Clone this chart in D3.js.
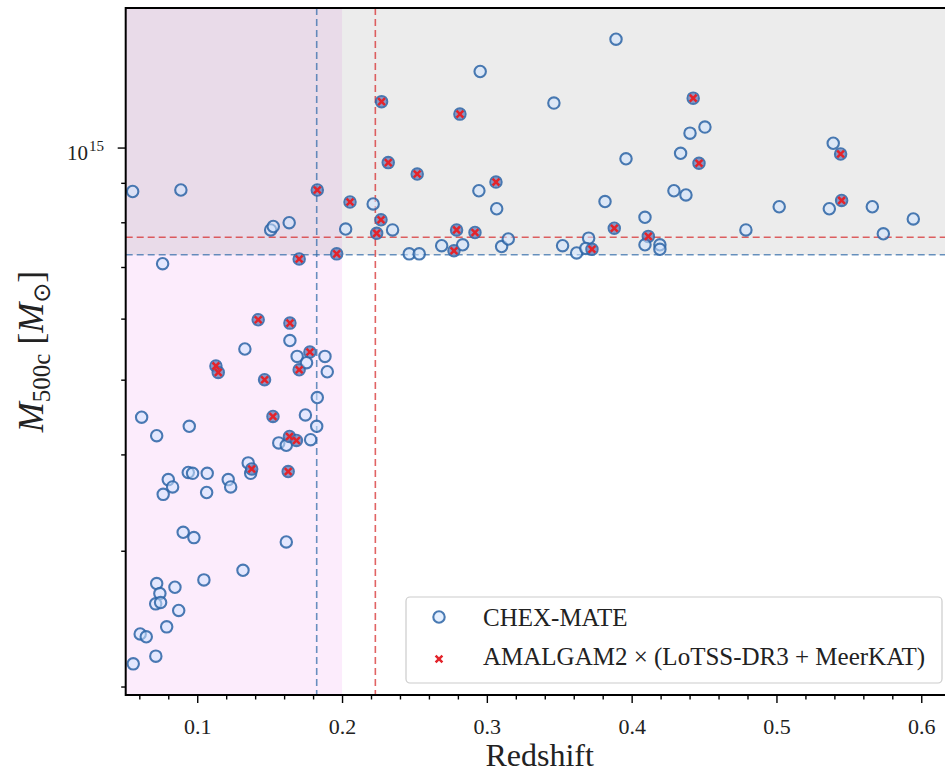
<!DOCTYPE html>
<html lang="en">
<head>
<meta charset="UTF-8">
<script src="https://d3js.org/d3.v7.min.js"></script>
<style>
  body { margin: 0; background: #fff; }
  svg { display: block; font-family: "Liberation Serif", "DejaVu Serif", serif; }
</style>
</head>
<body>
<div id="chart"></div>
<script>
// CHEX-MATE clusters: redshift and M500c (units of 1e14 Msun)
const chexRedshift = [
  0.0554, 0.0887, 0.1507, 0.1525, 0.1635, 0.0761, 0.1704, 0.1829, 0.2025, 0.2055,
  0.1963, 0.2215, 0.2273, 0.2319, 0.2269, 0.2239, 0.2349, 0.2519, 0.2464, 0.2533,
  0.2688, 0.2773, 0.2791, 0.2833, 0.2814, 0.2954, 0.2945, 0.3063, 0.3068, 0.2918,
  0.3102, 0.3148, 0.3463, 0.3523, 0.3620, 0.3703, 0.3684, 0.3726, 0.3892, 0.3961,
  0.3816, 0.3880, 0.4092, 0.4115, 0.4092, 0.4195, 0.4195, 0.4425, 0.4403, 0.4506,
  0.4338, 0.4465, 0.4292, 0.4375, 0.4789, 0.5019, 0.5392, 0.5443, 0.5365, 0.5450,
  0.5662, 0.5738, 0.5945,
  0.1421, 0.1640, 0.1640, 0.1329, 0.1129, 0.1145, 0.1465, 0.1778, 0.1704, 0.1690,
  0.1755, 0.1882, 0.1898, 0.1829, 0.0616, 0.0720, 0.0945, 0.1523, 0.1747, 0.1825,
  0.1563, 0.1615, 0.1637, 0.1685, 0.1783, 0.1352, 0.1369, 0.1376, 0.1628, 0.0800,
  0.0830, 0.0765, 0.0938, 0.0968, 0.1069, 0.1065, 0.1214, 0.1231, 0.0903, 0.0977,
  0.1615, 0.1316, 0.1046, 0.0720, 0.0846, 0.0742, 0.0713, 0.0747, 0.0872, 0.0789,
  0.0606, 0.0648, 0.0714, 0.0558
];
const chexMass = [
  8.77, 8.81, 7.82, 7.90, 7.99, 7.07, 7.17, 8.81, 7.84, 8.50,
  7.28, 8.45, 11.47, 9.56, 8.06, 7.74, 7.82, 9.24, 7.28, 7.28,
  7.46, 7.35, 7.82, 7.48, 11.05, 12.55, 8.79, 9.02, 8.33, 7.76,
  7.44, 7.61, 11.42, 7.46, 7.30, 7.63, 7.40, 7.38, 13.82, 9.67,
  8.51, 7.86, 8.12, 7.67, 7.48, 7.48, 7.38, 11.59, 10.44, 10.63,
  9.83, 9.54, 8.79, 8.68, 7.82, 8.38, 10.13, 9.81, 8.33, 8.54,
  8.38, 7.73, 8.08,
  5.98, 5.92, 5.62, 5.48, 5.21, 5.11, 5.00, 5.43, 5.15, 5.36,
  5.26, 5.36, 5.12, 4.74, 4.47, 4.23, 4.35, 4.48, 4.50, 4.35,
  4.14, 4.11, 4.22, 4.17, 4.18, 3.90, 3.78, 3.83, 3.80, 3.71,
  3.63, 3.55, 3.79, 3.78, 3.78, 3.57, 3.71, 3.63, 3.17, 3.12,
  3.08, 2.83, 2.75, 2.72, 2.69, 2.64, 2.56, 2.57, 2.51, 2.39,
  2.34, 2.32, 2.19, 2.14
];
// AMALGAM2 x (LoTSS-DR3 + MeerKAT) subset
const amalgamRedshift = [
  0.1704, 0.1829, 0.2055, 0.1963, 0.2273, 0.2319, 0.2269, 0.2239, 0.2519, 0.2773,
  0.2791, 0.2814, 0.3063, 0.2918, 0.3726, 0.3880, 0.4115, 0.4425, 0.4465, 0.5443,
  0.5450, 0.1421, 0.1640, 0.1129, 0.1145, 0.1465, 0.1778, 0.1704, 0.1523, 0.1637,
  0.1685, 0.1376, 0.1628
];
const amalgamMass = [
  7.17, 8.81, 8.50, 7.28, 11.47, 9.56, 8.06, 7.74, 9.24, 7.35,
  7.82, 11.05, 9.02, 7.76, 7.38, 7.86, 7.67, 11.59, 9.54, 9.81,
  8.54, 5.98, 5.92, 5.21, 5.11, 5.00, 5.43, 5.15, 4.48, 4.22,
  4.17, 3.83, 3.80
];
// selection cuts
const massCutRed = 7.65, massCutBlue = 7.26;   // 1e14 Msun
const zCutRed = 0.223, zCutBlue = 0.1825, zShade = 0.2;
const xMajor = [0.1, 0.2, 0.3, 0.4, 0.5, 0.6];
const xMinor = [0.06, 0.08, 0.12, 0.14, 0.16, 0.18, 0.22, 0.24, 0.26, 0.28, 0.32, 0.34, 0.36, 0.38,
                0.42, 0.44, 0.46, 0.48, 0.52, 0.54, 0.56, 0.58, 0.62];
const yMinor = [2, 3, 4, 5, 6, 7, 8, 9];

const w = 945, h = 773;
const pl = 125.7, pr = 953.7, pt = 8, pb = 695;
const E14 = 1e14;

const x = d3.scaleLinear().domain([0.0506, 0.6224]).range([pl, pr]);
const y = d3.scaleLog().domain([1.95e14, 1.517e15]).range([pb, pt]);

const svg = d3.select("#chart").append("svg").attr("width", w).attr("height", h);

svg.append("clipPath").attr("id", "plot")
   .append("rect").attr("x", pl).attr("y", pt).attr("width", pr - pl).attr("height", pb - pt);
const g = svg.append("g").attr("clip-path", "url(#plot)");

// shaded regions
g.append("rect")
   .attr("x", pl).attr("y", pt)
   .attr("width", x(zShade) - pl).attr("height", pb - pt)
   .attr("fill", "violet").attr("fill-opacity", 0.15);
g.append("rect")
   .attr("x", pl).attr("y", pt)
   .attr("width", pr - pl).attr("height", y(massCutBlue * E14) - pt)
   .attr("fill", "gray").attr("fill-opacity", 0.15);

// dashed cuts
const cuts = [
  {type: "h", v: massCutRed * E14, c: "#d62728"},
  {type: "h", v: massCutBlue * E14, c: "#2f6aa8"},
  {type: "v", v: zCutRed, c: "#d62728"},
  {type: "v", v: zCutBlue, c: "#2f6aa8"}
];
cuts.forEach(d => {
  const ln = g.append("line")
    .attr("stroke", d.c).attr("stroke-opacity", 0.72)
    .attr("stroke-width", 1.6).attr("stroke-dasharray", "7,4");
  if (d.type === "h") ln.attr("x1", pl).attr("x2", pr).attr("y1", y(d.v)).attr("y2", y(d.v));
  else ln.attr("y1", pt).attr("y2", pb).attr("x1", x(d.v)).attr("x2", x(d.v));
});

// CHEX-MATE circles
g.selectAll("circle.chex")
  .data(chexRedshift.map((z, i) => [z, chexMass[i]]))
  .enter().append("circle")
  .attr("class", "chex")
  .attr("cx", d => x(d[0]))
  .attr("cy", d => y(d[1] * E14))
  .attr("r", 5.7)
  .attr("fill", "#cfe4ff").attr("fill-opacity", 0.55)
  .attr("stroke", "#2c64a6").attr("stroke-opacity", 0.85)
  .attr("stroke-width", 2.1);

// AMALGAM2 crosses
const amal = amalgamRedshift.map((z, i) => [z, amalgamMass[i]]);
g.selectAll("circle.amal")
  .data(amal)
  .enter().append("circle")
  .attr("class", "amal")
  .attr("cx", d => x(d[0]))
  .attr("cy", d => y(d[1] * E14))
  .attr("r", 4.8)
  .attr("fill", "#5d6aa6").attr("fill-opacity", 0.65);
g.selectAll("path.amal")
  .data(amal)
  .enter().append("path")
  .attr("class", "amal")
  .attr("transform", d => "translate(" + x(d[0]) + "," + y(d[1] * E14) + ")")
  .attr("d", "M-3.4,-3.4L3.4,3.4M-3.4,3.4L3.4,-3.4")
  .attr("stroke", "#e3242b").attr("stroke-width", 2.5);

// axes
const xAxis = svg.append("g")
  .attr("transform", "translate(0," + pb + ")")
  .call(d3.axisBottom(x).tickValues(xMajor).tickSize(8).tickPadding(15).tickFormat(d3.format(".1f")));
svg.append("g")
  .attr("transform", "translate(0," + pb + ")")
  .call(d3.axisBottom(x).tickValues(xMinor).tickSize(4.5).tickFormat(""));
svg.append("g")
  .attr("transform", "translate(" + pl + ",0)")
  .call(d3.axisLeft(y).tickValues([1e15]).tickSize(8).tickFormat(""));
svg.append("g")
  .attr("transform", "translate(" + pl + ",0)")
  .call(d3.axisLeft(y).tickValues(yMinor.map(v => v * E14)).tickSize(4.5).tickFormat(""));
svg.selectAll(".domain").remove();
svg.selectAll(".tick line").attr("stroke", "#000").attr("stroke-width", 1.4);
xAxis.selectAll(".tick text")
  .attr("font-family", "Liberation Serif").attr("font-size", 22).attr("fill", "#222");

// 10^15 label
const yt = svg.append("text")
  .attr("x", 104).attr("y", y(1e15) + 12)
  .attr("text-anchor", "end").attr("font-size", 21).attr("fill", "#222");
yt.append("tspan").text("10");
yt.append("tspan").attr("font-size", 15).attr("dx", 1).attr("dy", -9).text("15");

// spines
svg.append("rect")
  .attr("x", pl).attr("y", pt).attr("width", pr - pl).attr("height", pb - pt)
  .attr("fill", "none").attr("stroke", "#000").attr("stroke-width", 2);

// axis labels
svg.append("text")
  .attr("x", (pl + pr) / 2).attr("y", 766)
  .attr("text-anchor", "middle").attr("font-size", 32).attr("fill", "#222")
  .text("Redshift");

const yl = svg.append("text")
  .attr("transform", "translate(43," + ((pt + pb) / 2) + ") rotate(-90)")
  .attr("text-anchor", "middle").attr("font-size", 36).attr("fill", "#222");
yl.append("tspan").attr("font-style", "italic").text("M");
yl.append("tspan").attr("font-size", 25).attr("dy", 7).text("500c");
yl.append("tspan").attr("dy", -7).text(" [");
yl.append("tspan").attr("font-style", "italic").text("M");
yl.append("tspan").attr("font-size", 24).attr("dy", 7).attr("font-family", "DejaVu Sans").text("\u2299");
yl.append("tspan").attr("dy", -7).text("]");

// legend
const lg = svg.append("g");
lg.append("rect")
  .attr("x", 406).attr("y", 597).attr("width", 536).attr("height", 86).attr("rx", 4)
  .attr("fill", "#fff").attr("fill-opacity", 0.8)
  .attr("stroke", "#cccccc").attr("stroke-width", 1.2);
lg.append("circle")
  .attr("cx", 439).attr("cy", 617).attr("r", 5.7)
  .attr("fill", "#cfe4ff").attr("fill-opacity", 0.55)
  .attr("stroke", "#2c64a6").attr("stroke-opacity", 0.85).attr("stroke-width", 2.1);
lg.append("path")
  .attr("transform", "translate(439,659)")
  .attr("d", "M-3.4,-3.4L3.4,3.4M-3.4,3.4L3.4,-3.4")
  .attr("stroke", "#e3242b").attr("stroke-width", 2.5);
lg.append("text").attr("x", 483).attr("y", 626).attr("font-size", 25).attr("fill", "#222")
  .text("CHEX-MATE");
lg.append("text").attr("x", 483).attr("y", 665).attr("font-size", 25).attr("fill", "#222")
  .text("AMALGAM2 \u00d7 (LoTSS-DR3 + MeerKAT)");
</script>
</body>
</html>
